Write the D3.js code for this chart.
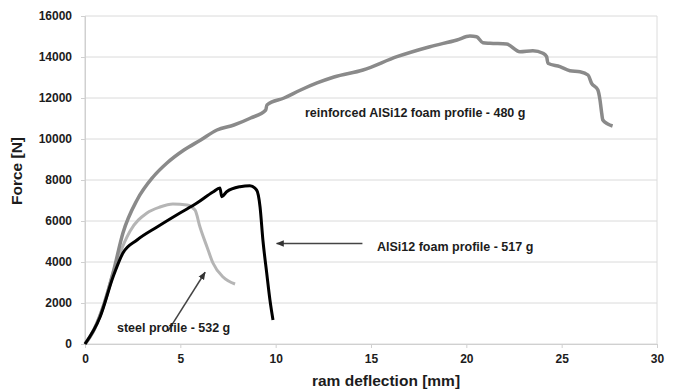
<!DOCTYPE html>
<html>
<head>
<meta charset="utf-8">
<script src="https://cdn.jsdelivr.net/npm/d3@7"></script>
<style>
body { margin: 0; background: #fff; }
text { font-family: "Liberation Sans", Arial, sans-serif; font-weight: bold; fill: #1c1c1c; }
</style>
</head>
<body>
<svg id="chart" width="679" height="391"></svg>
<script>
// ram deflection [mm] / force [N]
var reinforcedX = [0, 0.5, 1.0, 1.47, 1.99, 2.73, 3.57, 4.30, 5.19, 6.07, 6.92, 7.81, 8.69, 9.48, 9.54, 10.44, 11.31, 12.17, 13.06, 14.58, 16.36, 18.09, 19.51, 20.19, 20.54, 20.87, 21.24, 22.11, 22.81, 23.49, 24.02, 24.21, 24.28, 24.91, 25.43, 25.96, 26.38, 26.57, 26.90, 27.01, 27.10, 27.16, 27.42, 27.67]
var reinforcedY = [0, 750, 1950, 3460, 5415, 7024, 8146, 8829, 9463, 9951, 10439, 10683, 11024, 11415, 11659, 12000, 12390, 12732, 13024, 13366, 14015, 14503, 14829, 15024, 14990, 14698, 14668, 14634, 14258, 14307, 14180, 14015, 13693, 13527, 13332, 13283, 13122, 12717, 12390, 11902, 11254, 10927, 10732, 10634]

var foamX = [0, 0.79, 1.47, 1.99, 2.73, 3.78, 4.98, 5.87, 6.71, 7.08, 7.17, 7.43, 8.13, 8.65, 9.00, 9.18, 9.33, 9.53, 9.70, 9.86]
var foamY = [0, 1317, 3268, 4439, 5073, 5707, 6390, 6878, 7415, 7610, 7185, 7429, 7673, 7722, 7512, 6697, 5073, 3463, 2146, 1171]

var steelX = [0, 0.5, 1.0, 1.47, 2.36, 3.25, 3.93, 4.61, 5.35, 5.77, 6.03, 6.40, 6.71, 7.24, 7.87]
var steelY = [0, 750, 1950, 3463, 5500, 6390, 6683, 6829, 6780, 6536, 5707, 4732, 3951, 3268, 2927]

var xTicks = [0, 5, 10, 15, 20, 25, 30]
var yTicks = [0, 2000, 4000, 6000, 8000, 10000, 12000, 14000, 16000]

var svg = d3.select("#chart")
var plotLeft = 85, plotRight = 657, plotTop = 16, plotBottom = 344

var x = d3.scaleLinear().domain([0, 30]).range([plotLeft, plotRight])
var y = d3.scaleLinear().domain([0, 16000]).range([plotBottom, plotTop])

// grid
svg.append("g")
    .selectAll("line")
    .data(yTicks)
    .enter().append("line")
    .attr("x1", plotLeft).attr("x2", plotRight)
    .attr("y1", d => y(d)).attr("y2", d => y(d))
    .style("stroke", "#dadada")
    .style("stroke-width", 1)

// frame: left and right edges
svg.append("line").attr("x1", plotLeft).attr("x2", plotLeft).attr("y1", plotTop).attr("y2", plotBottom)
    .style("stroke", "#d0d0d0")
svg.append("line").attr("x1", plotRight).attr("x2", plotRight).attr("y1", plotTop).attr("y2", plotBottom)
    .style("stroke", "#dcdcdc")

var xAxis = svg.append("g")
    .attr("transform", "translate(0," + plotBottom + ")")
    .call(d3.axisBottom(x).tickValues(xTicks).tickSize(4).tickPadding(6))
var yAxis = svg.append("g")
    .attr("transform", "translate(" + plotLeft + ",0)")
    .call(d3.axisLeft(y).tickValues(yTicks).tickFormat(d3.format("d")).tickSize(4).tickPadding(9))

;[xAxis, yAxis].forEach(function(a) {
    a.select(".domain").style("stroke", "#d0d0d0")
    a.selectAll(".tick line").style("stroke", "#d0d0d0")
    a.selectAll(".tick text")
        .style("font-size", "12px")
        .style("font-family", "Liberation Sans, Arial, sans-serif")
        .style("font-weight", "bold")
        .style("fill", "#1c1c1c")
})

function series(xs, ys) {
    return xs.map((d, i) => [d, ys[i]])
}
var line = d3.line().curve(d3.curveMonotoneX).x(d => x(d[0])).y(d => y(d[1]))

svg.append("path").datum(series(steelX, steelY))
    .attr("d", line).style("fill", "none")
    .style("stroke", "#b5b5b5").style("stroke-width", 3).style("stroke-linejoin", "round")
svg.append("path").datum(series(reinforcedX, reinforcedY))
    .attr("d", line).style("fill", "none")
    .style("stroke", "#8a8a8a").style("stroke-width", 3.5).style("stroke-linejoin", "round")
svg.append("path").datum(series(foamX, foamY))
    .attr("d", line).style("fill", "none")
    .style("stroke", "#000").style("stroke-width", 3).style("stroke-linejoin", "round")

// arrows
svg.append("defs").append("marker")
    .attr("id", "head")
    .attr("viewBox", "0 0 10 10")
    .attr("refX", 9).attr("refY", 5)
    .attr("markerWidth", 8).attr("markerHeight", 8)
    .attr("markerUnits", "userSpaceOnUse")
    .attr("orient", "auto")
    .append("path").attr("d", "M0,1 L10,5 L0,9 Z").style("fill", "#333")

svg.append("line")
    .attr("x1", x(14.55)).attr("y1", y(4900))
    .attr("x2", x(10.05)).attr("y2", y(4900))
    .style("stroke", "#444").style("stroke-width", 1.5)
    .attr("marker-end", "url(#head)")
svg.append("line")
    .attr("x1", x(4.35)).attr("y1", y(630))
    .attr("x2", x(6.3)).attr("y2", y(3500))
    .style("stroke", "#444").style("stroke-width", 1.5)
    .attr("marker-end", "url(#head)")

// labels
svg.append("text").attr("x", 305).attr("y", 117).style("font-size", "12.5px")
    .text("reinforced AlSi12 foam profile - 480 g")
svg.append("text").attr("x", 377).attr("y", 251).style("font-size", "12.5px")
    .text("AlSi12 foam profile - 517 g")
svg.append("text").attr("x", 117).attr("y", 332).style("font-size", "12.5px")
    .text("steel profile - 532 g")

svg.append("text")
    .attr("x", 386).attr("y", 386)
    .attr("text-anchor", "middle")
    .style("font-size", "15.5px")
    .text("ram deflection [mm]")
svg.append("text")
    .attr("transform", "translate(22,171) rotate(-90)")
    .attr("text-anchor", "middle")
    .style("font-size", "15.5px")
    .text("Force [N]")
</script>
</body>
</html>
